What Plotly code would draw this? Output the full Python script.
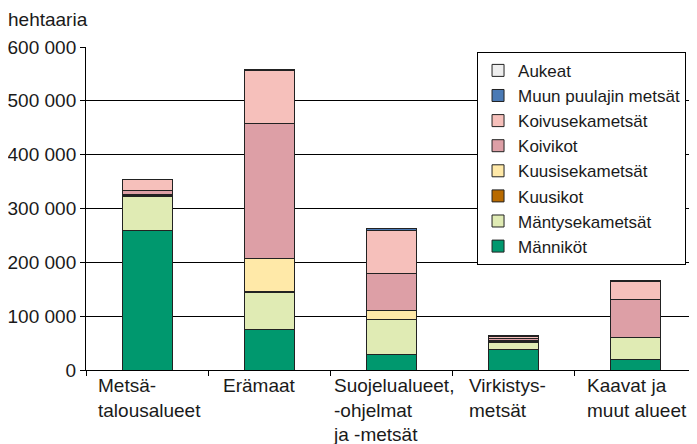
import plotly.graph_objects as go

CATEGORIES = ['Metsätalousalueet', 'Erämaat', 'Suojelualueet', 'Virkistysmetsät', 'Kaavat']
CAT_LABELS = ['Metsä-<br>talousalueet', 'Erämaat', 'Suojelualueet,<br>-ohjelmat<br>ja -metsät',
              'Virkistys-<br>metsät', 'Kaavat ja<br>muut alueet']

# bottom to top of each stack
mannikot = [260000, 75000, 28000, 38000, 19000]
mantysekametsat = [62000, 69000, 65000, 14000, 41000]
kuusikot = [1500, 1000, 1000, 1000, 500]
kuusisekametsat = [3000, 62000, 16000, 2000, 500]
koivikot = [7500, 250000, 70000, 4000, 70000]
koivusekametsat = [19000, 99000, 80000, 4000, 34000]
muun_puulajin = [500, 1500, 2000, 300, 300]
aukeat = [500, 1000, 1500, 200, 200]

Y_TICKS = [0, 100000, 200000, 300000, 400000, 500000, 600000]
Y_TICKTEXT = ['0', '100 000', '200 000', '300 000', '400 000', '500 000', '600 000']

SERIES = [
    ('Männiköt', mannikot, '#00986e'),
    ('Mäntysekametsät', mantysekametsat, '#e0ebb4'),
    ('Kuusikot', kuusikot, '#b86a00'),
    ('Kuusisekametsät', kuusisekametsat, '#ffe9a8'),
    ('Koivikot', koivikot, '#dd9fa6'),
    ('Koivusekametsät', koivusekametsat, '#f6c0bb'),
    ('Muun puulajin metsät', muun_puulajin, '#4a7ab5'),
    ('Aukeat', aukeat, '#eeeeee'),
]

FONT = 'Liberation Sans, Arial, sans-serif'
TXT = '#1a1a1a'
FS = 19

fig = go.Figure()
for name, vals, color in SERIES:
    fig.add_trace(go.Bar(x=CATEGORIES, y=vals, name=name,
                         marker=dict(color=color, line=dict(color='#222222', width=1))))

# category labels, left-aligned blocks under each bar (small nudges like the original)
label_nudge = [2, -10, 2, -6, 1]
for cat, lab, dx in zip(CATEGORIES, CAT_LABELS, label_nudge):
    fig.add_annotation(x=cat, y=0, xref='x', yref='y', text=lab, showarrow=False,
                       align='left', xanchor='center', yanchor='top', yshift=-3, xshift=dx,
                       font=dict(size=FS, color=TXT, family=FONT))

# page body adds 8px margin, so the figure is 8px smaller than the window
fig.update_layout(
    width=689, height=436, barmode='stack', bargap=0.59,
    plot_bgcolor='white', paper_bgcolor='white',
    font=dict(family=FONT, size=FS, color=TXT),
    title=dict(text='hehtaaria', x=0.0, xanchor='left', y=0.975, yanchor='middle',
               font=dict(size=FS, color=TXT, family=FONT)),
    xaxis=dict(showticklabels=False, tickson='boundaries', ticks='outside', ticklen=5,
               tickcolor='black', showline=True, linecolor='black', linewidth=1,
               showgrid=False),
    yaxis=dict(range=[0, 600000], tickvals=Y_TICKS, ticktext=Y_TICKTEXT,
               ticks='outside', ticklen=5, tickcolor='black',
               showline=True, linecolor='black', linewidth=1,
               showgrid=True, gridcolor='black', gridwidth=1, zeroline=False),
    legend=dict(x=0.64, y=0.985, xanchor='left', yanchor='top', traceorder='reversed',
                bgcolor='white', bordercolor='black', borderwidth=1, itemwidth=30,
                font=dict(size=17, color=TXT, family=FONT), tracegroupgap=0),
    margin=dict(l=78, r=0, t=39, b=74),
    showlegend=True,
)

fig.write_html('out.html')
